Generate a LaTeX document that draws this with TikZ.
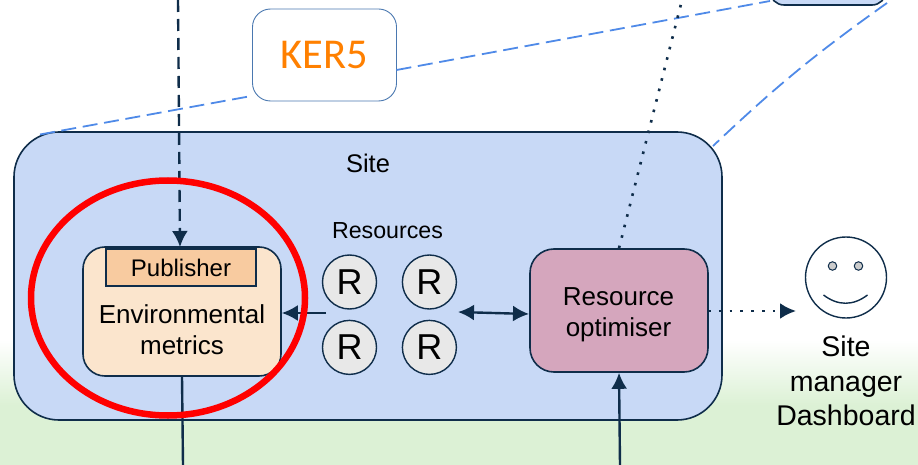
\documentclass[tikz,border=0pt]{standalone}
\usepackage{fontspec}
\setmainfont{Liberation Sans}
\newfontfamily\kerfont{Carlito}
\usetikzlibrary{arrows.meta,positioning,shapes.geometric}
\definecolor{inkblue}{HTML}{0F2D4A}
\definecolor{linkblue}{HTML}{4F8AE8}
\definecolor{sitefill}{HTML}{C8D9F6}
\definecolor{groundgreen}{HTML}{DCF1D5}
\definecolor{kerline}{HTML}{4A78B0}
\definecolor{kertext}{HTML}{FF8000}
\definecolor{metricsfill}{HTML}{FBE5CD}
\definecolor{pubfill}{HTML}{F8CBA0}
\definecolor{optfill}{HTML}{D5A6BD}
\tikzstyle{box}=[draw=inkblue,line width=1.6pt,inner sep=0pt]
\tikzstyle{sitebox}=[box,fill=sitefill,rounded corners=45pt,minimum width=708pt,minimum height=288pt]
\tikzstyle{topbox}=[box,fill=sitefill,rounded corners=14pt,minimum width=116pt,minimum height=60pt]
\tikzstyle{kerbox}=[draw=kerline,line width=0.9pt,fill=white,rounded corners=18pt,minimum width=144pt,minimum height=92pt,inner sep=0pt,text=kertext,font=\kerfont\fontsize{42.5}{42.5}\selectfont]
\tikzstyle{metricsbox}=[box,fill=metricsfill,rounded corners=22pt,minimum width=198pt,minimum height=129pt]
\tikzstyle{pubbox}=[box,fill=pubfill,minimum width=150pt,minimum height=37pt,font=\fontsize{24}{24}\selectfont]
\tikzstyle{optbox}=[box,fill=optfill,rounded corners=24pt,minimum width=178pt,minimum height=123pt]
\tikzstyle{res}=[circle,draw=inkblue,line width=1.4pt,fill=black!9,minimum size=54pt,inner sep=0pt,font=\fontsize{36}{36}\selectfont]
\tikzstyle{eye}=[circle,draw=inkblue,line width=1pt,fill=black!20,minimum size=8.5pt,inner sep=0pt]
\tikzstyle{edge}=[-{Latex[length=16pt,width=16pt]},draw=inkblue,line width=2.4pt]
\tikzstyle{dashedge}=[edge,dash pattern=on 12pt off 7pt]
\tikzstyle{dotedge}=[draw=inkblue,line width=2.6pt,dash pattern=on 2.6pt off 8.2pt]
\tikzstyle{kerlink}=[draw=linkblue,line width=1.8pt,dash pattern=on 15pt off 6.7pt]
\begin{document}
\begin{tikzpicture}[x=1pt,y=-1pt]
        \useasboundingbox (0,0) rectangle (918,465);
        \clip (0,0) rectangle (918,465);

        % ground behind the site
        \shade [top color=white,bottom color=groundgreen,draw=none] (0,340) rectangle (918,405);
        \fill [groundgreen] (0,405) rectangle (918,465);

        \node [sitebox] (site) at (368,276) {};
        \node [topbox] (top) at (828,-25) {};
        \node [kerbox] (ker) at (324.5,55) {KER5};
        \node at (368,163) (sitelabel) {\fontsize{25.5}{25.5}\selectfont Site};

        \node [metricsbox] (metrics) at (182,311.5) {};
        \node [pubbox] (pub) at (181,267.5) {Publisher};
        \node [align=center,font=\fontsize{26}{31}\selectfont] (metricslabel) at (182,329.5) {Environmental\\metrics};

        \node [res] (r1) at (349.5,282) {R};
        \node [res,right=24.5pt of r1] (r2) {R};
        \node [res,below=10pt of r1] (r3) {R};
        \node [res,right=24.5pt of r3] (r4) {R};
        \node [font=\fontsize{23.2}{23.2}\selectfont] (reslabel) at (387.5,231) {Resources};

        \node [optbox] (opt) at (619,310.5) {};
        \node [align=center,font=\fontsize{26}{30.5}\selectfont] (optlabel) at (618.5,315) {Resource\\optimiser};

        \node [circle,draw=inkblue,line width=1.4pt,minimum size=81pt,inner sep=0pt] (face) at (846,277.5) {};
        \node [eye] (eye1) at (832.5,266) {};
        \node [eye] (eye2) at (858.5,266) {};
        \node [align=center,font=\fontsize{28.5}{34.5}\selectfont] (facelabel) at (846,381) {Site\\manager\\Dashboard};

        \coordinate (smile1) at (823.5,295);
        \coordinate (smile2) at (867.5,295);
        \draw [inkblue,line width=1.4pt] (smile1) .. controls (838,306) and (853,306) .. (smile2);

        \coordinate (pubtop) at (178,0);
        \coordinate (opttop) at (682,0);
        \coordinate (metricsout) at (183,465);
        \coordinate (optin) at (620,465);
        \coordinate (kerleft) at (251.5,96);
        \coordinate (kerright) at (396.5,70);
        \coordinate (siteleft) at (40,134.5);
        \coordinate (sitecorner) at (713,146);
        \coordinate (topleft) at (770,1);
        \coordinate (topright) at (887,3);
        \coordinate (resleft) at (326,313);
        \coordinate (resright) at (458,312);
        \coordinate (optleft) at (529,314);
        \coordinate (optout) at (708,311);
        \coordinate (facein) at (796,311);
        \coordinate (pubin) at (180,247);

        \path [kerlink] (siteleft) -- (kerleft);
        \path [kerlink] (kerright) -- (topleft);
        \path [kerlink] (topright) to [bend right=4] (sitecorner);

        \path [dashedge] (pubtop) -- (pubin);
        \path [dotedge] (opt.north) -- (opttop);
        \path [dotedge,-{Latex[length=16pt,width=16pt]}] (optout) -- (facein);
        \path [edge,-] (metrics.south) -- (metricsout);
        \path [edge] (optin) -- (opt.south);
        \path [edge] (resleft) -- (metrics.east |- resleft);
        \path [edge,{Latex[length=16pt,width=16pt]}-{Latex[length=16pt,width=16pt]}] (resright) -- (optleft);

        % highlight goes on top
        \node [ellipse,draw=red,line width=6.5pt,minimum width=274pt,minimum height=235pt,inner sep=0pt] (focus) at (168,298) {};
\end{tikzpicture}
\end{document}
